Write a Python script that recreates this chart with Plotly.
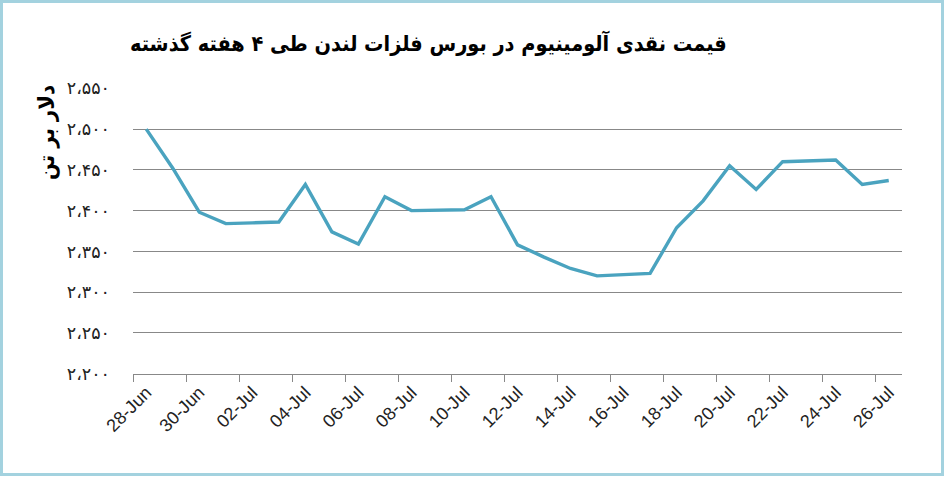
import plotly.graph_objects as go

# %% Datos
fechas = ["28-Jun", "29-Jun", "30-Jun", "01-Jul", "02-Jul", "03-Jul", "04-Jul", "05-Jul",
          "06-Jul", "07-Jul", "08-Jul", "09-Jul", "10-Jul", "11-Jul", "12-Jul", "13-Jul",
          "14-Jul", "15-Jul", "16-Jul", "17-Jul", "18-Jul", "19-Jul", "20-Jul", "21-Jul",
          "22-Jul", "23-Jul", "24-Jul", "25-Jul", "26-Jul"]
precios = [2500, 2452, 2398, 2384, 2385, 2386, 2432, 2374, 2359, 2417,
           2400, 2400, 2401, 2417, 2358, 2343, 2329, 2320, 2321, 2323,
           2379, 2412, 2455, 2426, 2460, 2461, 2462, 2432, 2437]

y_ticks = [2200, 2250, 2300, 2350, 2400, 2450, 2500, 2550]
y_labels = ["۲،۲۰۰", "۲،۲۵۰", "۲،۳۰۰", "۲،۳۵۰", "۲،۴۰۰", "۲،۴۵۰", "۲،۵۰۰", "۲،۵۵۰"]

titulo = "قیمت نقدی آلومینیوم در بورس فلزات لندن طی ۴ هفته گذشته"
unidad = "دلار بر تن"

# %% Figura
W, H = 945, 478
L, R, T, B = 133, 43, 88, 104
pw, ph = W - L - R, H - T - B

def px_x(p):
    return (p - L) / pw

def px_y(p):
    return (H - B - p) / ph

fig = go.Figure()

fig.add_trace(go.Scatter(
    x=fechas,
    y=precios,
    mode='lines',
    line=dict(color='#4aa3bf', width=3.4),
    showlegend=False
))

fig.update_layout(
    width=W, height=H,
    margin=dict(l=L, r=R, t=T, b=B),
    paper_bgcolor='white',
    plot_bgcolor='white',
    font=dict(family="DejaVu Sans", color='#222'),
    xaxis=dict(
        type='category',
        range=[-0.5, len(fechas) - 0.5],
        dtick=2,
        tickson='boundaries',
        ticks='outside',
        ticklen=7,
        tickcolor='#888',
        showgrid=False,
        showline=True,
        linecolor='#888',
        linewidth=1,
        tickangle=-45,
        tickfont=dict(family="Liberation Sans", size=18, color='#222'),
    ),
    yaxis=dict(
        range=[2199.6, 2550.4],
        tickmode='array',
        tickvals=y_ticks,
        ticktext=y_labels,
        showgrid=True,
        gridcolor='#888',
        gridwidth=1,
        zeroline=False,
        showline=False,
        ticks='',
        ticklabelstandoff=22,
        tickfont=dict(family="DejaVu Sans", size=17.5, color='#222'),
    ),
)

# titulo
fig.add_annotation(
    text="<b>" + titulo + "</b>",
    xref='paper', yref='paper',
    x=px_x(428), y=px_y(43),
    xanchor='center', yanchor='middle',
    showarrow=False,
    font=dict(family="DejaVu Sans Condensed", size=21.5, color='black'),
)

# unidad del eje y
fig.add_annotation(
    text="<b>" + unidad + "</b>",
    xref='paper', yref='paper',
    x=px_x(47), y=px_y(133),
    xanchor='center', yanchor='middle',
    textangle=-90,
    showarrow=False,
    font=dict(family="DejaVu Sans Condensed", size=22, color='black'),
)

# borde
fig.add_shape(
    type='rect',
    xref='paper', yref='paper',
    x0=px_x(1.5), x1=px_x(942.5),
    y0=px_y(474.5), y1=px_y(1.5),
    line=dict(color='#a3d2df', width=3),
    layer='above',
)

fig.write_html("out.html", config={'displayModeBar': False},
               post_script="document.body.style.margin='0';")
